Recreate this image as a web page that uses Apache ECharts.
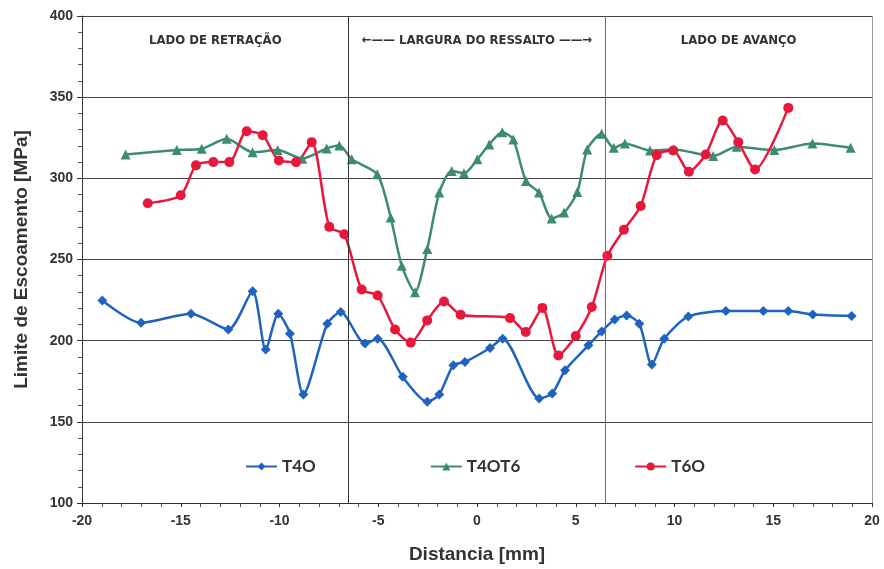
<!DOCTYPE html>
<html><head><meta charset="utf-8">
<script src="https://cdn.jsdelivr.net/npm/echarts@6/dist/echarts.min.js"></script>
<style>html,body{margin:0;padding:0;background:#fff}#c{width:884px;height:569px}</style>
</head><body><div id="c"></div>
<script>
// T4O (blue diamonds)
const t4oX = [-18.97,-17.01,-14.48,-12.59,-11.36,-10.70,-10.06,-9.47,-8.79,-7.58,-6.90,-5.67,-5.03,-3.76,-2.52,-1.91,-1.20,-0.61,0.66,1.30,3.15,3.81,4.46,5.64,6.31,6.97,7.58,8.22,8.85,9.48,10.70,12.60,14.50,15.76,17.00,18.97];
const t4oY = [224.7,211.0,216.6,206.9,230.5,194.5,216.6,204.3,166.9,210.4,217.6,198.2,201.2,177.7,162.4,166.9,184.8,186.9,195.5,201.2,164.4,167.5,181.8,197.1,205.7,213.0,215.5,210.4,185.3,201.2,214.9,218.2,218.2,218.2,216.1,215.2];
// T4OT6 (green triangles)
const t4ot6X = [-17.79,-15.20,-13.94,-12.67,-11.36,-10.09,-8.85,-7.61,-6.97,-6.34,-5.05,-4.37,-3.81,-3.14,-2.52,-1.91,-1.28,-0.66,0.02,0.62,1.28,1.84,2.48,3.14,3.78,4.41,5.08,5.58,6.31,6.92,7.49,8.76,9.97,11.96,13.15,15.05,16.98,18.92];
const t4ot6Y = [314.7,317.4,318.2,324.4,316.1,317.4,312.1,318.4,320.2,311.7,302.5,275.9,246.2,229.9,256.4,291.2,304.5,303.1,311.7,320.9,328.4,323.9,298.3,291.2,275.3,278.9,291.6,317.8,327.4,318.8,321.5,317.2,317.8,313.7,319.4,317.4,321.5,318.8];
// T6O (red circles)
const t6oX = [-16.67,-15.00,-14.23,-13.35,-12.54,-11.66,-10.85,-10.03,-9.16,-8.37,-7.48,-6.72,-5.84,-5.03,-4.15,-3.36,-2.52,-1.67,-0.83,1.67,2.47,3.31,4.12,5.00,5.81,6.60,7.44,8.29,9.10,9.94,10.73,11.58,12.44,13.23,14.08,15.76];
const t6oY = [284.7,289.6,308.0,310.0,310.0,329.0,326.6,311.0,310.0,322.3,270.1,265.6,231.5,227.8,206.9,198.8,212.5,224.1,216.0,213.9,205.3,220.2,190.9,202.9,220.7,252.3,268.3,283.0,314.3,317.2,304.1,314.7,335.6,322.3,305.5,343.4];
const seriesNames = ['T4O','T4OT6','T6O'];
const zoneLabels = ['LADO DE RETRAÇÃO','\u2190\u2014\u2014 LARGURA DO RESSALTO \u2014\u2014\u2192','LADO DE AVANÇO'];
const zoneBounds = [-20,-6.5,6.5,20];

const zip = (xs, ys) => xs.map((x,i)=>[x,ys[i]]);
const lblFont = {fontFamily:'Liberation Sans, Arial, sans-serif', fontWeight:'bold', fontSize:14, color:'#333'};
const nameFont = {fontFamily:'Liberation Sans, Arial, sans-serif', fontWeight:'bold', fontSize:19, color:'#333'};

const chart = echarts.init(document.getElementById('c'));
chart.setOption({
  animation:false,
  backgroundColor:'#fff',
  grid:{left:82, right:12, top:16, bottom:64},
  legend:{
    left:240, top:453, itemWidth:31, itemHeight:10, itemGap:114,
    textStyle:{fontFamily:'Lato, "Noto Sans", sans-serif', fontSize:17, color:'#333', fontWeight:'bold'},
    data:seriesNames
  },
  xAxis:{
    type:'value', min:-20, max:20, interval:5,
    axisLine:{show:true, onZero:false, lineStyle:{color:'#333', width:1}},
    axisTick:{show:true, inside:false, length:4, lineStyle:{color:'#333'}},
    minorTick:{show:true, splitNumber:5, length:4, lineStyle:{color:'#555'}},
    axisLabel:Object.assign({margin:11}, lblFont),
    splitLine:{show:false},
    name:'Distancia [mm]', nameLocation:'middle', nameGap:42,
    nameTextStyle:nameFont
  },
  yAxis:{
    type:'value', min:100, max:400, interval:50,
    axisLine:{show:true, onZero:false, lineStyle:{color:'#333', width:1}},
    axisTick:{show:true, length:5, lineStyle:{color:'#333'}},
    minorTick:{show:true, splitNumber:5, length:4, lineStyle:{color:'#555'}},
    axisLabel:Object.assign({margin:9}, lblFont),
    splitLine:{show:true, lineStyle:{color:'#444', width:1}},
    name:'Limite de Escoamento [MPa]', nameLocation:'middle', nameGap:51,
    nameTextStyle:nameFont
  },
  series:[
    {
      name:seriesNames[0], type:'line', data:zip(t4oX,t4oY), smooth:0.25,
      symbol:'diamond', symbolSize:10,
      lineStyle:{color:'#1f63c0', width:2.5}, itemStyle:{color:'#1f63c0'},
      markLine:{silent:true, symbol:'none', label:{show:false},
        data:[
          {xAxis:zoneBounds[1], lineStyle:{color:'#333', width:1, type:'solid'}},
          {xAxis:zoneBounds[2], lineStyle:{color:'#6a6a8a', width:1, type:'solid'}},
          {xAxis:zoneBounds[3], lineStyle:{color:'#999', width:1, type:'solid'}}
        ]},
      markArea:{silent:true, itemStyle:{color:'rgba(0,0,0,0)'},
        label:{show:true, position:'insideTop', distance:18,
          fontFamily:'"Liberation Sans Narrow", "DejaVu Sans Condensed", sans-serif', fontWeight:'bold', fontSize:13, color:'#333'},
        data:[
          [{name:zoneLabels[0], xAxis:zoneBounds[0]},{xAxis:zoneBounds[1]}],
          [{name:zoneLabels[1], xAxis:zoneBounds[1]},{xAxis:zoneBounds[2]}],
          [{name:zoneLabels[2], xAxis:zoneBounds[2]},{xAxis:zoneBounds[3]}]
        ]}
    },
    {
      name:seriesNames[1], type:'line', data:zip(t4ot6X,t4ot6Y), smooth:0.25,
      symbol:'triangle', symbolSize:10,
      lineStyle:{color:'#3d8b72', width:2.5}, itemStyle:{color:'#3d8b72'}
    },
    {
      name:seriesNames[2], type:'line', data:zip(t6oX,t6oY), smooth:0.25,
      symbol:'circle', symbolSize:10,
      lineStyle:{color:'#e8183c', width:2.5}, itemStyle:{color:'#e8183c'}
    }
  ]
});
</script>
</body></html>
